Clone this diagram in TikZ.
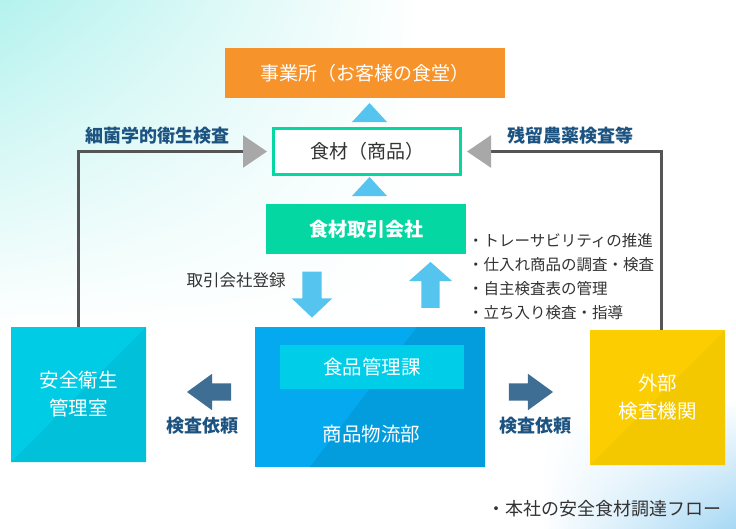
\documentclass[tikz,border=0pt]{standalone}
\usepackage{fontspec}
\setmainfont{Noto Sans CJK JP}
\usetikzlibrary{arrows.meta,shapes.arrows,shadings,calc}

\definecolor{orangebox}{HTML}{F7932B}
\definecolor{greenbox}{HTML}{05D7A2}
\definecolor{skyarrow}{HTML}{55C5F0}
\definecolor{navyarrow}{HTML}{3E6E93}
\definecolor{navytext}{HTML}{1C5381}
\definecolor{cyanbox}{HTML}{00CCE6}
\definecolor{cyandark}{HTML}{00C0DA}
\definecolor{bluebox}{HTML}{04A9F0}
\definecolor{bluedark}{HTML}{039CDD}
\definecolor{innerbox}{HTML}{00CEE8}
\definecolor{yellowbox}{HTML}{FCCD00}
\definecolor{yellowdark}{HTML}{F3C800}
\definecolor{linegray}{HTML}{555555}
\definecolor{tipgray}{HTML}{A8A8A8}
\definecolor{textgray}{HTML}{333333}
\definecolor{bgaqua}{HTML}{B4F2EE}
\definecolor{bgblue}{HTML}{A6D8F4}

\begin{document}
\begin{tikzpicture}[x=1pt,y=-1pt,
    tile/.style={inner sep=0pt,text=white,font=\fontsize{19.5}{28}\selectfont,align=center},
    tint/.style={path picture={\fill[#1] (path picture bounding box.south west) -- (path picture bounding box.north east) -- (path picture bounding box.south east) -- cycle;}},
    fatarrow/.style={single arrow,draw=none},
    feed/.style={draw=linegray,line width=2.5pt,shorten >=5pt,-{Triangle[width=32pt,length=24pt,fill=tipgray,color=tipgray]}},
    tag/.style={inner sep=0pt,text=navytext,font=\fontsize{18}{20}\selectfont\bfseries}]
    \useasboundingbox (0,0) rectangle (736,528);
    % background
    \fill[white] (0,0) rectangle (736,528);
    \shade[upper left=bgaqua,upper right=white,lower left=white,lower right=white] (0,0) rectangle (420,330);
    \shade[upper left=white,upper right=white,lower left=white,lower right=bgblue] (540,400) rectangle (736,528);

    % top column
    \node[tile,fill=orangebox,minimum width=280pt,minimum height=50pt,font=\fontsize{19}{20}\selectfont] (office) at (365,73) {事業所（お客様の食堂）};
    \fill[skyarrow] (352,122) -- (387,122) -- (369.5,103) -- cycle;
    \node[draw=greenbox,line width=3pt,fill=white,minimum width=187pt,minimum height=46pt,inner sep=0pt,text=textgray,font=\fontsize{19}{20}\selectfont] (food) at (367,151.5) {食材（商品）};
    \fill[skyarrow] (352,196) -- (387,196) -- (369.5,177) -- cycle;
    \node[tile,fill=greenbox,minimum width=200pt,minimum height=50pt,font=\fontsize{19}{20}\selectfont\bfseries] (trade) at (366,229) {食材取引会社};

    % between trade and department
    \node[fatarrow,fill=skyarrow,shape border rotate=270,inner sep=9.5pt,minimum height=46pt,single arrow head extend=10.5pt,single arrow tip angle=93] (down) at (312,290) {};
    \node[fatarrow,fill=skyarrow,shape border rotate=90,inner sep=9pt,minimum height=46pt,single arrow head extend=12.5pt,single arrow tip angle=97] (up) at (430.5,289) {};
    \node[inner sep=0pt,text=textgray,font=\fontsize{16.5}{20}\selectfont] (register) at (236,280) {取引会社登録};
    \node[anchor=west,inner sep=0pt,align=left,text=textgray,font=\fontsize{15.5}{24}\selectfont] (duties) at (468,276.5) {・トレーサビリティの推進\\・仕入れ商品の調査・検査\\・自主検査表の管理\\・立ち入り検査・指導};

    % bottom row
    \node[tile,fill=cyanbox,tint=cyandark,minimum width=135pt,minimum height=135pt] (safety) at (78.5,394.5) {安全衛生\\管理室};
    \node[tile,fill=bluebox,minimum width=230pt,minimum height=140pt,path picture={\fill[bluedark] ($(path picture bounding box.south west)+(55,0)$) -- ($(path picture bounding box.north west)+(162,0)$) -- (path picture bounding box.north east) -- (path picture bounding box.south east) -- cycle;}] (dept) at (370,397) {};
    \node[tile,fill=innerbox,minimum width=184pt,minimum height=44pt] (section) at (372,367) {食品管理課};
    \node[tile] (deptname) at (371.5,434) {商品物流部};
    \node[tile,fill=yellowbox,tint=yellowdark,minimum width=135pt,minimum height=135pt] (ext) at (657.5,397.5) {外部\\検査機関};

    \node[fatarrow,fill=navyarrow,shape border rotate=180,inner sep=8.5pt,minimum height=44pt,single arrow head extend=9.5pt,single arrow tip angle=72] (askleft) at (215,392) {};
    \node[fatarrow,fill=navyarrow,inner sep=8.5pt,minimum height=44pt,single arrow head extend=9.5pt,single arrow tip angle=72] (askright) at (525,392) {};
    \node[tag] (askleftlabel) at (202,426) {検査依頼};
    \node[tag] (askrightlabel) at (535,426) {検査依頼};

    % inspection feedback
    \draw[feed] (safety.north) |- (food.west) node[tag,pos=0.705,above=6pt] {細菌学的衛生検査};
    \draw[feed] ([xshift=4pt]ext.north) |- (food.east) node[tag,pos=0.728,above=6pt] {残留農薬検査等};

    \node[anchor=east,inner sep=0pt,text=textgray,font=\fontsize{18}{20}\selectfont] (caption) at (722,509) {・本社の安全食材調達フロー};
\end{tikzpicture}
\end{document}
